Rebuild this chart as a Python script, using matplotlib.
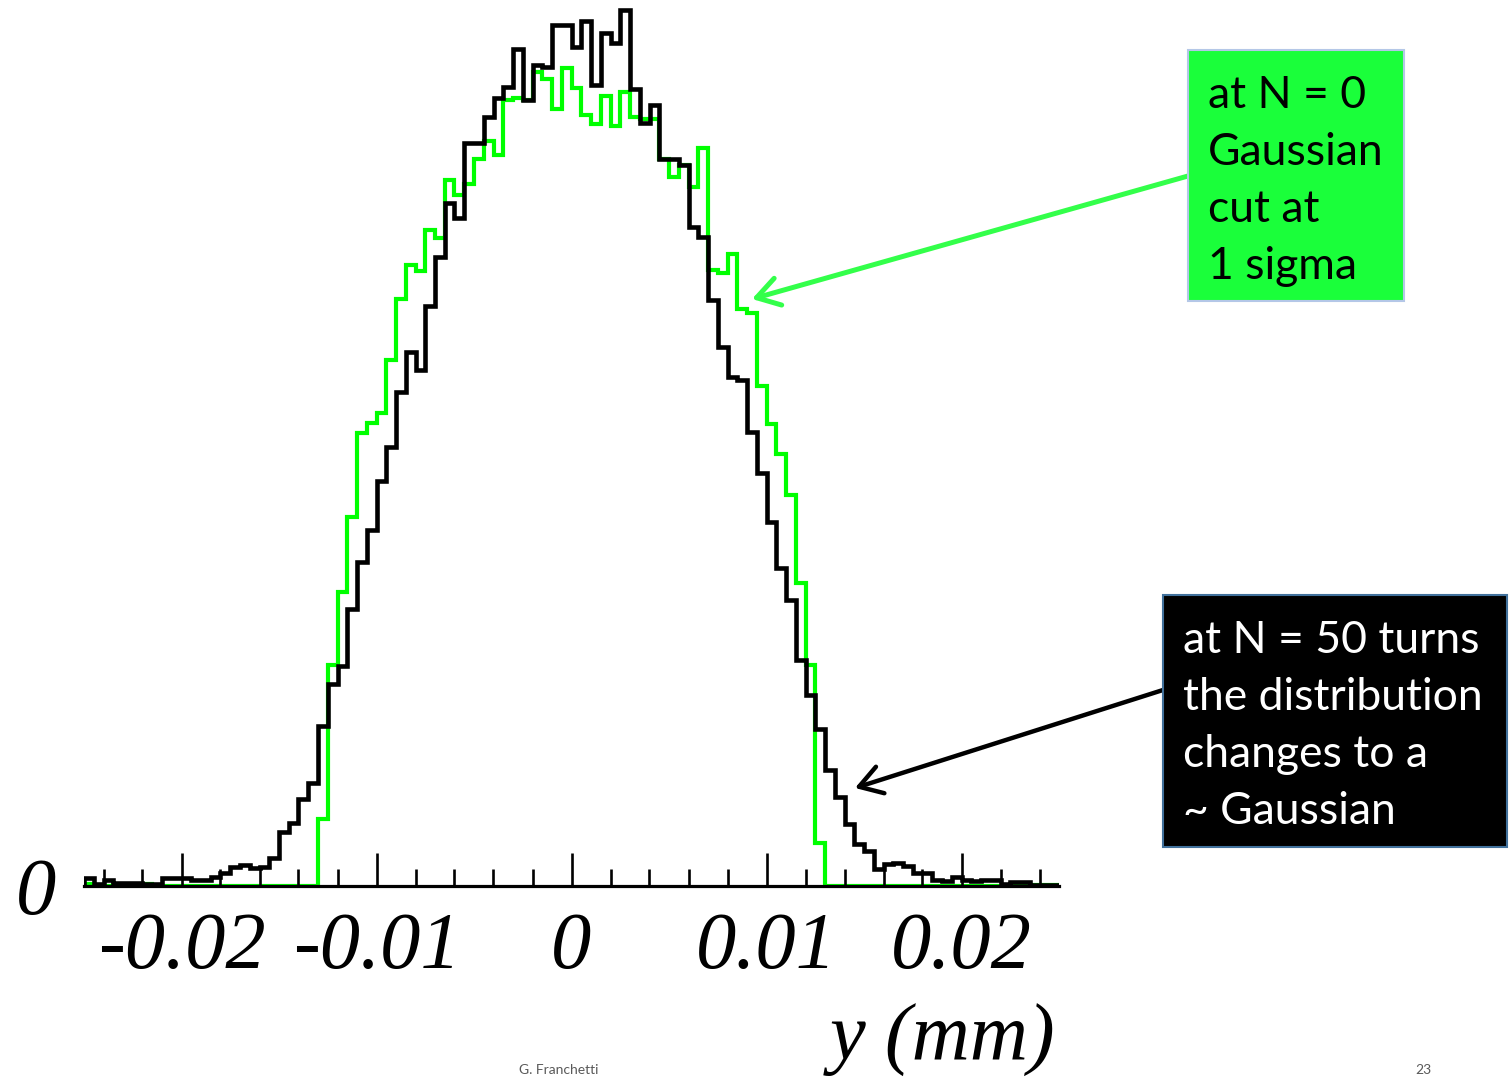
import numpy as np
import matplotlib
matplotlib.use("Agg")
import matplotlib.pyplot as plt
from matplotlib.patches import Rectangle
from matplotlib.ticker import MultipleLocator

# bin heights (arbitrary units, 100 bins from -0.025 to 0.025 mm)
black_counts = [8, 2, 6, 3, 3, 3, 2, 2, 8, 8,
                8, 6, 6, 9, 13, 19, 21, 18, 19, 28,
                54, 63, 87, 103, 160, 202, 220, 277, 324, 356,
                405, 439, 494, 534, 516, 580, 629, 683, 668, 743,
                743, 769, 788, 799, 837, 786, 821, 819, 861, 861,
                839, 865, 801, 853, 843, 876, 797, 763, 781, 727,
                727, 721, 659, 649, 586, 539, 509, 506, 454, 413,
                364, 318, 286, 226, 191, 157, 116, 89, 62, 42,
                35, 17, 22, 23, 20, 13, 13, 6, 5, 9,
                6, 5, 6, 6, 2, 4, 4, 1, 1, 1]

green_counts = [2, 1, 0, 1, 1, 1, 2, 0, 0, 0,
                0, 0, 0, 0, 0, 0, 0, 0, 0, 0,
                0, 0, 0, 0, 67, 221, 294, 369, 453, 463,
                473, 526, 587, 621, 615, 656, 648, 706, 691, 702,
                727, 745, 731, 786, 788, 786, 814, 807, 777, 818,
                798, 771, 762, 790, 760, 794, 769, 767, 767, 727,
                709, 721, 699, 738, 616, 613, 632, 577, 573, 500,
                462, 432, 391, 303, 221, 43, 0, 0, 0, 0,
                0, 0, 0, 0, 0, 0, 0, 0, 0, 0,
                0, 0, 0, 0, 0, 1, 1, 1, 1, 1]

y_min, y_max = -0.025, 0.025
n_bins = len(black_counts)

major_ticks = [-0.02, -0.01, 0.0, 0.01, 0.02]
major_labels = ["-0.02", "-0.01", "0", "0.01", "0.02"]

green_note = ["at N = 0", "Gaussian", "cut at", "1 sigma"]
black_note = ["at N = 50 turns", "the distribution", "changes to a", "~ Gaussian"]

W, H = 1512, 1079
fig = plt.figure(figsize=(W / 100, H / 100), dpi=100)
ax = fig.add_axes([84 / W, (H - 886) / H, 975 / W, 886 / H])

edges = np.linspace(y_min, y_max, n_bins + 1)
ax.stairs(green_counts, edges, color="#00ff00", lw=3.0, baseline=0)
ax.stairs(black_counts, edges, color="black", lw=3.3, baseline=0)

ax.set_xlim(y_min, y_max)
ax.set_ylim(0, 886)

for s in ["top", "right", "left"]:
    ax.spines[s].set_visible(False)
ax.spines["bottom"].set_linewidth(2.3)

serif = dict(family="Liberation Serif", style="italic", size=58)

ax.set_xticks(major_ticks)
ax.set_xticklabels(major_labels, fontdict=serif)
ax.xaxis.set_minor_locator(MultipleLocator(0.002))
ax.tick_params(axis="x", which="major", direction="in", length=24, width=1.9, pad=19)
ax.tick_params(axis="x", which="minor", direction="in", length=12, width=1.9)

ax.set_yticks([0])
ax.set_yticklabels(["0"], fontdict=serif)
ax.tick_params(axis="y", length=0, pad=20)

fig.text(1055 / W, 1 - 1060 / H, "y (mm)", ha="right", va="baseline", **serif)


def fpx(x, y):
    # figure pixels measured from the top-left corner
    return (x, H - y)


# green note box
fig.patches.append(Rectangle((1188 / W, 1 - 301 / H), 216 / W, 251 / H,
                             transform=fig.transFigure, facecolor="#1aff3a",
                             edgecolor="#b4c7e7", lw=1.5))
for i, line in enumerate(green_note):
    fig.text(1208 / W, 1 - (108 + 57 * i) / H, line, family="Lato",
             size=32, color="black", ha="left", va="baseline")

# black note box
fig.patches.append(Rectangle((1163 / W, 1 - 847 / H), 344 / W, 252 / H,
                             transform=fig.transFigure, facecolor="black",
                             edgecolor="#41719c", lw=1.5))
for i, line in enumerate(black_note):
    fig.text(1183 / W, 1 - (653 + 57 * i) / H, line, family="Lato",
             size=32, color="white", ha="left", va="baseline")

ax.annotate("", xy=fpx(752, 299), xytext=fpx(1188, 176),
            xycoords="figure pixels", textcoords="figure pixels",
            arrowprops=dict(arrowstyle="->,head_length=0.4,head_width=0.25",
                            color="#33ff4a", lw=3.6, mutation_scale=40,
                            shrinkA=0, shrinkB=0))
ax.annotate("", xy=fpx(855, 788), xytext=fpx(1163, 690),
            xycoords="figure pixels", textcoords="figure pixels",
            arrowprops=dict(arrowstyle="->,head_length=0.4,head_width=0.25",
                            color="black", lw=3.2, mutation_scale=40,
                            shrinkA=0, shrinkB=0))

# footer along the bottom edge
fig.text(519 / W, 3 / H, "G. Franchetti", family="Lato", size=10,
         color="#595959", ha="left", va="bottom")
fig.text(1415 / W, 3 / H, "23", family="Lato", size=10,
         color="#595959", ha="left", va="bottom")

fig.savefig("out.png", dpi=100)
